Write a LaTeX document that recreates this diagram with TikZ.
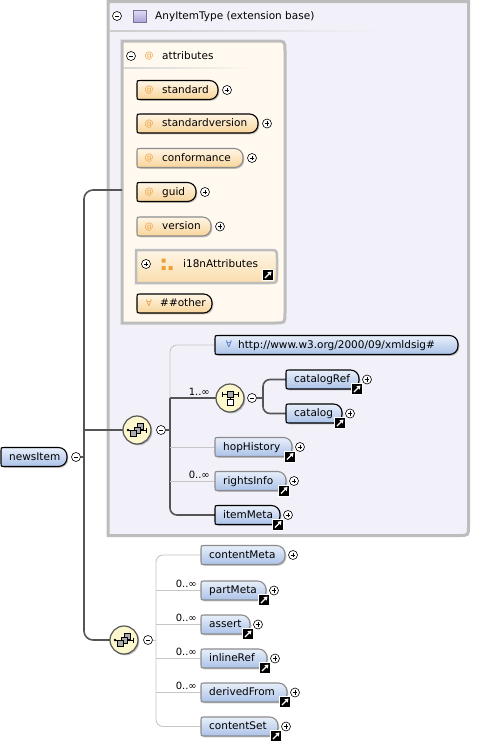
\documentclass[tikz,border=0pt]{standalone}
\usepackage{fontspec}
\setmainfont{DejaVu Sans}
\usetikzlibrary{shadows,arrows.meta,calc}
\definecolor{bluetop}{HTML}{E8EFFA}
\definecolor{bluebot}{HTML}{ABC2E8}
\definecolor{ortop}{HTML}{FFF6E6}
\definecolor{orbot}{HTML}{F8D49A}
\definecolor{darkln}{HTML}{555555}
\definecolor{lightln}{HTML}{C6C6C6}
\definecolor{outerfill}{HTML}{F2F1F9}
\definecolor{outerbd}{HTML}{BDBDBD}
\definecolor{attrfill}{HTML}{FFF9EF}
\definecolor{optbd}{HTML}{8C8C8C}
\definecolor{atc}{HTML}{EE9F3C}
\definecolor{anyc}{HTML}{4A74C4}
\definecolor{seqfill}{HTML}{FCF7CC}
\definecolor{purtop}{HTML}{E2DCF5}
\definecolor{purbot}{HTML}{AEA3DA}
\pgfdeclarelayer{back}
\pgfdeclarelayer{conn}
\pgfsetlayers{back,conn,main}
\tikzset{
 dark/.style={draw=darkln, line width=1.6pt},
 light/.style={draw=lightln, line width=0.9pt},
 elshadow/.style={drop shadow={shadow xshift=1.3pt, shadow yshift=-1.3pt, fill=black, opacity=.22}},
 blueel/.style={top color=bluetop, bottom color=bluebot, elshadow},
 orel/.style={top color=ortop, bottom color=orbot, elshadow},
 req/.style={draw=black, line width=1.1pt},
 opt/.style={draw=optbd, line width=1.1pt},
 elnode/.style={inner sep=0pt, outer sep=0pt, minimum height=19pt, anchor=west},
 lbl/.style={inner sep=0pt, anchor=west, text height=8pt, text depth=2pt, font=\fontsize{10.5}{12}\selectfont},
 atsym/.style={inner sep=0pt, text height=6pt, text depth=1pt, text=atc, font=\fontsize{9}{10}\selectfont},
 pmc/.style={circle, draw=black, fill=white, line width=.6pt, minimum size=9pt, inner sep=0pt, outer sep=0pt},
 seqc/.style={circle, draw=darkln, fill=seqfill, line width=1.2pt, minimum size=28pt, inner sep=0pt, outer sep=0pt,
   drop shadow={shadow xshift=1.3pt, shadow yshift=-1.3pt, fill=black, opacity=.25}},
 occ/.style={font=\fontsize{10}{11}\selectfont, inner sep=0pt},
 bigbox/.style={draw=outerbd, line width=3pt},
}
% element: name, x, y, w, text, border, fill, text offset
\newcommand\elem[8]{%
 \path[#6,#7] ({#2+3},{#3-9.5}) -- ({#2+#4-8.5},{#3-9.5}) .. controls ({#2+#4-3.8},{#3-9.5}) and ({#2+#4},{#3-5.7}) .. ({#2+#4},{#3-1})
   -- ({#2+#4},{#3+1}) .. controls ({#2+#4},{#3+5.7}) and ({#2+#4-3.8},{#3+9.5}) .. ({#2+#4-8.5},{#3+9.5}) -- ({#2+3},{#3+9.5})
   .. controls ({#2},{#3+9.5}) .. ({#2},{#3+6.5}) -- ({#2},{#3-6.5}) .. controls ({#2},{#3-9.5}) .. ({#2+3},{#3-9.5}) -- cycle;
 \node[elnode, minimum width={#4pt}] (#1) at ({#2},{#3}) {};
 \node[lbl] (#1-t) at ({#2+#8},{#3}) {#5};
}
% plus / minus: name, x, y, 1=plus 0=minus
\newcommand\pmark[4]{%
 \node[pmc] (#1) at ({#2},{#3}) {};
 \draw[line width=.6pt] ([xshift=-2.4pt]#1.center) -- ([xshift=2.4pt]#1.center);
 \ifnum#4=1 \draw[line width=.6pt] ([yshift=-2.4pt]#1.center) -- ([yshift=2.4pt]#1.center);\fi
}
% shortcut arrow icon centred at x,y
\newcommand\shortcut[2]{%
 \fill[white] ({#1-6},{#2-6}) rectangle ({#1+6},{#2+6});
 \fill[black] ({#1-5},{#2-5}) rectangle ({#1+5},{#2+5});
 \draw[white, line width=1.3pt, -{Triangle[length=3.5pt,width=4.5pt]}] ({#1-3},{#2+3}) -- ({#1+3.5},{#2-3.5});
}
% attribute: name, y, w, text, border
\newcommand\attr[5]{%
 \elem{#1}{137}{#2}{#3}{#4}{#5}{orel}{25}
 \node[atsym] (#1-at) at (149,{#2}) {@};
 \pmark{#1-p}{137+#3+9}{#2}{1}
}
% blue element: name, x, y, w, text, border, icon
\newcommand\bel[7]{%
 \elem{#1}{#2}{#3}{#4}{#5}{#6}{blueel}{8}
 \ifnum#7=1 \shortcut{#2+#4-2}{#3+9.5}\fi
 \pmark{#1-p}{#2+#4+8}{#3}{1}
}
\newcommand\seqicon[3]{%
 \node[seqc] (#1) at ({#2},{#3}) {};
 \begin{scope}[shift={(#2,#3)}]
  \draw[line width=.7pt] (-9,0) -- (9,0);
  \fill (-9,0) circle (1.4);
  \draw[line width=.9pt] (9,-2.5) -- (9,2.5);
  \foreach \d in {-3.5,0,3.5} \draw[fill=gray!65, line width=.5pt] ({-\d-3},{\d-3}) rectangle ({-\d+3},{\d+3});
 \end{scope}
}
\newcommand\choiceicon[3]{%
 \node[seqc] (#1) at ({#2},{#3}) {};
 \begin{scope}[shift={(#2,#3)}]
  \draw[line width=.7pt] (-8,-3.5) -- (8,-3.5);
  \draw[line width=.9pt] (-8,-6) -- (-8,-1) (8,-6) -- (8,-1);
  \draw[fill=gray!65, line width=.5pt] (-3,-6.5) rectangle (3,-0.5);
  \draw[line width=.6pt] (0,-0.5) -- (0,1.5);
  \draw[fill=white, line width=.6pt] (-3,1.5) rectangle (3,7.5);
 \end{scope}
}
\begin{document}
\begin{tikzpicture}[x=1pt,y=-1pt]
\useasboundingbox (0,0) rectangle (487,742);

% ---------- big boxes ----------
\begin{pgfonlayer}{back}
\fill[white] (0,0) rectangle (487,742);
\path[bigbox, fill=outerfill] (108,1.5) -- (468.5,1.5) -- (468.5,526) .. controls (468.5,535.5) .. (459,535.5) -- (108,535.5) -- cycle;
\shade[left color=black!20, right color=outerfill] (110,30.3) rectangle (380,31.7);
\path[bigbox, fill=attrfill] (122,41) -- (275,41) .. controls (285,41) .. (285,51) -- (285,313) .. controls (285,323) .. (275,323) -- (122,323) -- cycle;
\shade[left color=black!16, right color=attrfill] (124,67.3) rectangle (255,68.6);
\end{pgfonlayer}

% ---------- header of the extension ----------
\pmark{mAny}{117}{16}{0}
\path[draw=purbot!70!black, line width=.6pt, top color=purtop, bottom color=purbot] (133,10) rectangle (146,22);
\node[lbl] (anyT) at (155,16) {AnyItemType (extension base)};

% ---------- attributes ----------
\pmark{mAttr}{131}{56}{0}
\node[atsym] (attrAt) at (149,56) {@};
\node[lbl] (attrT) at (162,56) {attributes};

\attr{standard}{90}{81}{standard}{req}
\attr{stdver}{123.5}{121}{standardversion}{req}
\attr{conformance}{158}{106}{conformance}{opt}
\attr{guid}{192}{59}{guid}{req}
\attr{version}{226.5}{74}{version}{opt}

\path[draw=outerbd, line width=2.5pt, top color=ortop, bottom color=orbot!75!ortop] (136,250) -- (269,250) .. controls (277,250) .. (277,258) -- (277,275) .. controls (277,283) .. (269,283) -- (136,283) -- cycle;
\node[inner sep=0pt, outer sep=0pt, minimum width=141pt, minimum height=33pt, anchor=north west] (i18n) at (136,250) {};
\pmark{i18n-p}{146}{264}{1}
\fill[atc] (161.5,258.5) rectangle (165.5,262.5) (161.5,266) rectangle (165.5,270) (168.5,266) rectangle (172.5,270);
\node[lbl] (i18n-t) at (183,264) {i18nAttributes};
\shortcut{268}{275}

\elem{other}{137}{303.5}{75}{\#\#other}{req}{orel}{23}
\node[atsym] (other-any) at (149,303.5) {∀};

% ---------- root ----------
\elem{newsItem}{1}{457}{66}{newsItem}{req}{blueel}{8}
\pmark{mNews}{76}{457}{0}

% ---------- first sequence ----------
\seqicon{seq1}{137}{430}
\pmark{m1}{161}{430}{0}
\elem{url}{215}{345}{243}{http://www.w3.org/2000/09/xmldsig\#}{req}{blueel}{23}
\node[atsym, text=anyc] (url-any) at (229,345) {∀};
\choiceicon{ch}{230}{398}
\pmark{m2}{252}{398}{0}
\bel{catalogRef}{286}{379.5}{73}{catalogRef}{req}{1}
\bel{catalog}{286}{413.5}{56}{catalog}{req}{1}
\bel{hopHistory}{215}{447}{77}{hopHistory}{opt}{1}
\bel{rightsInfo}{215}{481}{71}{rightsInfo}{opt}{1}
\bel{itemMeta}{215}{515}{65}{itemMeta}{req}{1}
\node[occ, anchor=base east] (occ1) at (210,395) {1..∞};
\node[occ, anchor=base east] (occ2) at (210,478) {0..∞};

% ---------- second sequence ----------
\seqicon{seq2}{124}{640}
\pmark{m3}{148}{640}{0}
\bel{contentMeta}{201}{555}{84}{contentMeta}{opt}{0}
\bel{partMeta}{201}{590.5}{65}{partMeta}{opt}{1}
\bel{assert}{201}{624.5}{49}{assert}{opt}{1}
\bel{inlineRef}{201}{658.5}{66}{inlineRef}{opt}{1}
\bel{derivedFrom}{201}{692.5}{86}{derivedFrom}{opt}{1}
\bel{contentSet}{201}{726.5}{77}{contentSet}{opt}{1}
\node[occ, anchor=base east] (occ3) at (197,587.5) {0..∞};
\node[occ, anchor=base east] (occ4) at (197,621.5) {0..∞};
\node[occ, anchor=base east] (occ5) at (197,655.5) {0..∞};
\node[occ, anchor=base east] (occ6) at (197,689.5) {0..∞};

% ---------- connectors ----------
\coordinate (attrin) at (122,190);
\coordinate (trTop) at (84,190);
\coordinate (trBot) at (84,640);
\coordinate (b1) at (170,430);
\coordinate (b2) at (263,398);
\coordinate (b3) at (156,640);
\begin{pgfonlayer}{conn}
\draw[dark, rounded corners=9pt] (attrin) -- (trTop) -- (trBot) -- (seq2.west);
\draw[dark] (mNews.east) -- (mNews.east -| trTop);
\draw[dark] (seq1.west -| trTop) -- (seq1.west);
\draw[dark] (m1.east) -- (b1);
\draw[light, rounded corners=7pt] (url.west) -| (b1 |- ch.west);
\draw[dark] (b1 |- ch.west) -- (ch.west);
\draw[dark, rounded corners=7pt] (b1 |- ch.west) -- (b1 |- itemMeta.west) -- (itemMeta.west);
\draw[light] (b1 |- hopHistory.west) -- (hopHistory.west);
\draw[light] (b1 |- rightsInfo.west) -- (rightsInfo.west);
\draw[dark] (m2.east) -- (b2);
\draw[dark, rounded corners=7pt] (catalogRef.west) -| (b2 |- catalog.west) -- (catalog.west);
\draw[light] (m3.east) -- (b3);
\draw[light, rounded corners=7pt] (contentMeta.west) -| (b3 |- contentSet.west) -- (contentSet.west);
\foreach \n in {partMeta,assert,inlineRef,derivedFrom} \draw[light] (b3 |- \n.west) -- (\n.west);
\end{pgfonlayer}
\end{tikzpicture}
\end{document}
